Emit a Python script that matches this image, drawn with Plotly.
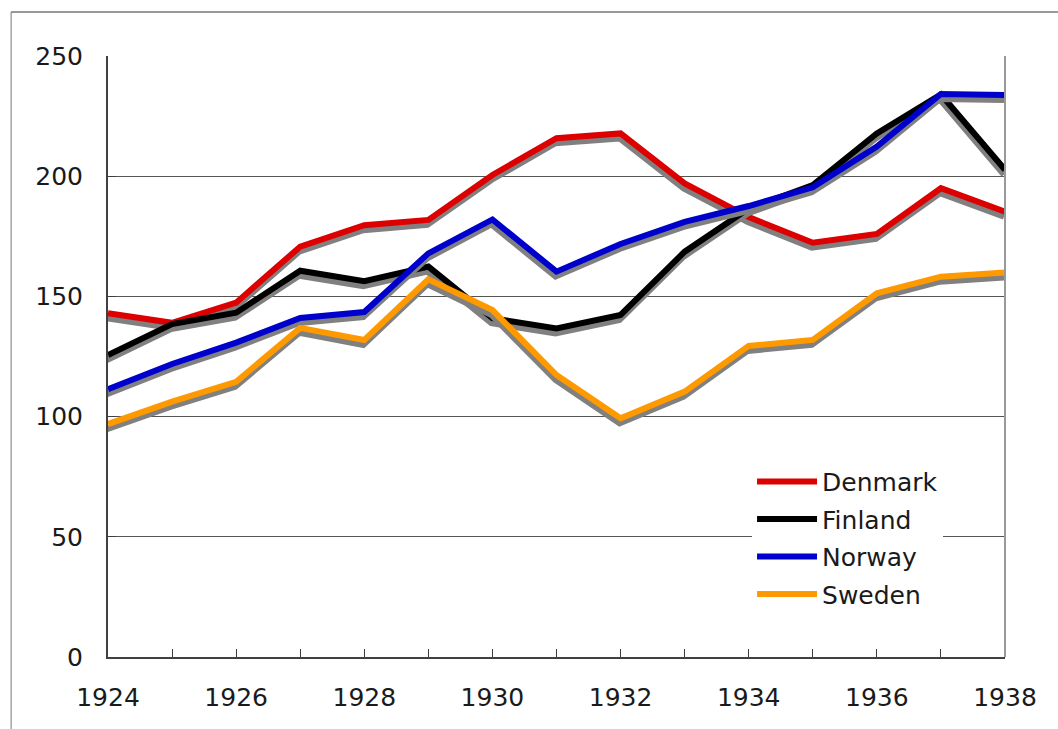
import plotly.graph_objects as go

years = list(range(1924, 1939))
denmark = [143, 139, 147.4, 170.7, 179.6, 181.8, 200.5, 215.8, 217.8, 197, 183, 172.3, 176, 195, 185.2]
finland = [125.6, 138.5, 143.2, 160.7, 156.3, 162.4, 140.9, 136.7, 142.3, 168.6, 186.6, 196.3, 217.8, 234, 202.7]
norway = [111.4, 121.9, 130.8, 141.0, 143.5, 167.9, 182, 160.3, 171.8, 181, 187.6, 195.4, 212.3, 234.2, 233.8]
sweden = [96.9, 106.2, 114.5, 136.9, 131.9, 157.1, 144.3, 117.3, 99.3, 110.4, 129.4, 131.9, 151.3, 158.2, 159.9]

series = [("Denmark", denmark, "#DD0000"), ("Finland", finland, "#000000"),
          ("Norway", norway, "#0000CC"), ("Sweden", sweden, "#FF9900")]

# shadow offset (in data units): ~1px left, ~5px down
DX = 14 / 897 * 1.0
DY = 250 / 601 * 5.0

fig = go.Figure()
for name, vals, col in series:
    fig.add_trace(go.Scatter(x=[x - DX for x in years], y=[v - DY for v in vals], mode="lines",
                             line=dict(color="#808080", width=6), showlegend=False,
                             hoverinfo="skip", legendgroup=name))
    fig.add_trace(go.Scatter(x=years, y=vals, mode="lines", name=name, legendgroup=name,
                             line=dict(color=col, width=6)))

fig.update_layout(
    width=1058, height=729,
    margin=dict(l=108, r=53, t=56, b=72),
    paper_bgcolor="white", plot_bgcolor="white",
    font=dict(family="DejaVu Sans", size=25, color="#1a1a1a"),
    showlegend=True,
    legend=dict(x=0.718, y=0.33, xanchor="left", yanchor="top", bgcolor="white",
                borderwidth=0, font=dict(size=25, family="DejaVu Sans", color="#1a1a1a"),
                itemwidth=60, tracegroupgap=2),
    xaxis=dict(range=[1924, 1938], tickmode="linear", tick0=1924, dtick=2,
               showgrid=False, zeroline=False, showline=True, linecolor="#404040", linewidth=2,
               ticks="inside", ticklen=8, tickcolor="#404040", ticklabelstandoff=17,
               minor=dict(dtick=1, tick0=1924, ticks="inside", ticklen=8, tickcolor="#404040", showgrid=False)),
    yaxis=dict(range=[0, 250], tickmode="linear", tick0=0, dtick=50,
               showgrid=True, gridcolor="#555555", gridwidth=1, zeroline=False,
               showline=True, linecolor="#404040", linewidth=2,
               ticks="inside", ticklen=8, tickcolor="#404040", ticklabelstandoff=18),
    shapes=[
        dict(type="line", xref="paper", yref="paper", x0=1, x1=1, y0=0, y1=1,
             line=dict(color="#999999", width=2), layer="above"),
        dict(type="line", xref="paper", yref="paper", x0=-0.108, x1=1.2, y0=1.0732, y1=1.0732,
             line=dict(color="#333333", width=1)),
        dict(type="line", xref="paper", yref="paper", x0=-0.108, x1=-0.108, y0=-0.3, y1=1.0732,
             line=dict(color="#777777", width=1)),
    ],
)

fig.write_html("out.html", config={"displayModeBar": False},
               post_script="document.body.style.margin='0';document.body.style.overflow='hidden';")
